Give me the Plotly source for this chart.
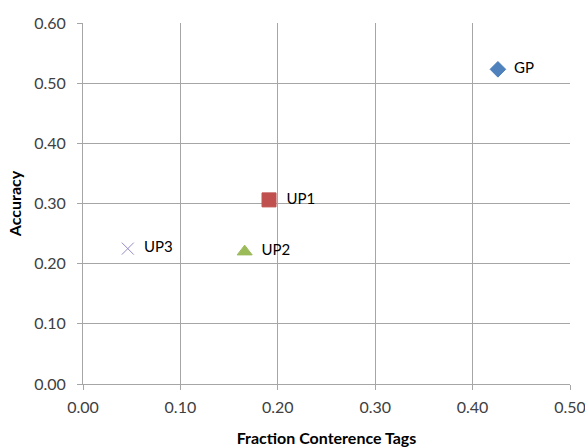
import plotly.graph_objects as go

names = ["GP", "UP1", "UP2", "UP3"]
x_vals = [0.426, 0.191, 0.166, 0.046]
y_vals = [0.523, 0.306, 0.220, 0.225]
symbols = ["diamond", "square", "triangle-up", "x-thin"]
colors = ["#4F81BD", "#C0504D", "#9BBB59", "#9A8BC4"]
sizes = [12, 14, 13, 12]

FONT = "Lato, Open Sans, sans-serif"
fig = go.Figure()
for n, x, y, s, c, sz in zip(names, x_vals, y_vals, symbols, colors, sizes):
    fig.add_trace(go.Scatter(
        x=[x], y=[y], mode="markers+text", text=["  " + n], textposition="middle right",
        marker=dict(symbol=s, color=c, size=sz, line=dict(color=c, width=1)),
        textfont=dict(size=15, color="#000000", family=FONT),
        showlegend=False, cliponaxis=False,
    ))

tick_font = dict(size=16, color="#404040", family=FONT)
fig.update_layout(
    width=585, height=447,
    margin=dict(l=83, r=15, t=23, b=63, autoexpand=False),
    paper_bgcolor="white", plot_bgcolor="white",
    xaxis=dict(range=[0, 0.5], dtick=0.1, tickformat=".2f", showgrid=True, gridcolor="#A6A6A6",
               gridwidth=1, zeroline=False, showline=True, linecolor="#A6A6A6", automargin=False,
               ticks="outside", ticklen=5, tickcolor="#A6A6A6", tickfont=tick_font,
               ticklabelstandoff=4, ticklabeloverflow="allow",
               title=dict(text="<b>Fraction Conterence Tags</b>", standoff=18,
                          font=dict(size=16, color="#000000", family=FONT))),
    yaxis=dict(range=[0, 0.6], dtick=0.1, tickformat=".2f", showgrid=True, gridcolor="#A6A6A6",
               gridwidth=1, zeroline=False, showline=True, linecolor="#A6A6A6", automargin=False,
               ticks="outside", ticklen=5, tickcolor="#A6A6A6", tickfont=tick_font,
               ticklabelstandoff=8, ticklabeloverflow="allow",
               title=dict(text="<b>Accuracy</b>", standoff=8,
                          font=dict(size=16, color="#000000", family=FONT))),
)
fig.write_html("out.html")
